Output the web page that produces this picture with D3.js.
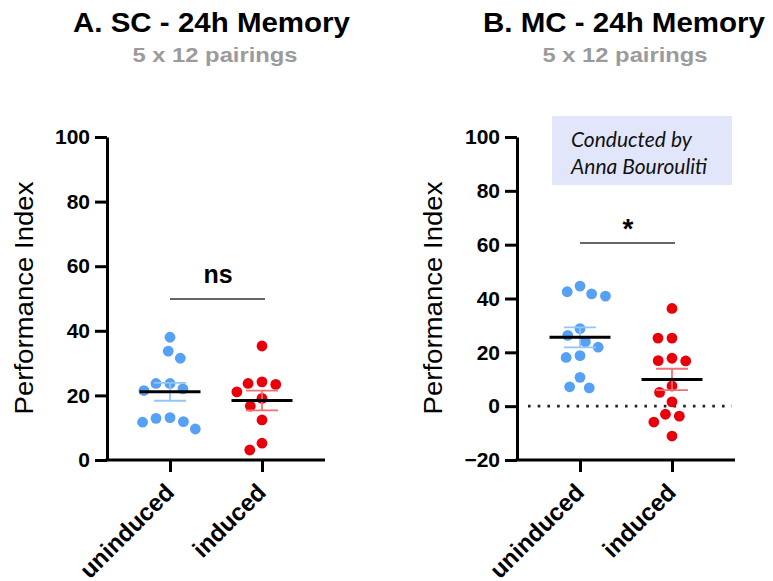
<!DOCTYPE html>
<html>
<head>
<meta charset="utf-8">
<script src="https://cdn.jsdelivr.net/npm/d3@7"></script>
<style>
  body { margin: 0; background: #fff; }
</style>
</head>
<body>
<div id="chart"></div>
<script>
// values (performance index per fly group)
var groups = ["uninduced", "induced"];
var scUninduced = [38.0, 33.7, 31.5, 23.7, 23.7, 21.5, 22.0, 13.1, 12.9, 11.9, 11.7, 9.6];
var scInduced = [35.3, 24.2, 23.7, 23.4, 21.1, 19.1, 16.7, 12.4, 5.2, 3.1];
var mcUninduced = [44.6, 42.5, 41.7, 40.9, 28.8, 26.3, 24.0, 21.9, 18.8, 18.1, 10.7, 7.2, 6.8];
var mcInduced = [36.3, 25.3, 25.3, 17.8, 16.9, 16.8, 7.5, 5.1, 1.6, -3.0, -3.7, -5.9, -11.1];
var ticksSC = [0, 20, 40, 60, 80, 100];
var ticksMC = [-20, 0, 20, 40, 60, 80, 100];

var font = "'Liberation Sans', Arial, sans-serif";
var dotColor = ["#56a0f5", "#e8000b"];
var errColor = ["#93c4fa", "#f27070"];

var svg = d3.select("#chart").append("svg")
  .attr("width", 773)
  .attr("height", 581);

// simple beeswarm: put each dot as close to the centre as it can go
function swarm(vals, y, d) {
  var placed = [];
  var xs = new Array(vals.length);
  var order = vals.map(function(v, i) { return i; })
    .sort(function(a, b) { return vals[b] - vals[a]; });
  order.forEach(function(i) {
    var py = y(vals[i]);
    var blocked = [];
    placed.forEach(function(p) {
      var dy = Math.abs(p.y - py);
      if (dy < d) {
        var w = Math.sqrt(d * d - dy * dy);
        blocked.push([p.x - w, p.x + w]);
      }
    });
    var cands = [0];
    blocked.forEach(function(b) { cands.push(b[0], b[1]); });
    cands.sort(function(a, b) { return Math.abs(a) - Math.abs(b); });
    var x = cands.find(function(c) {
      return blocked.every(function(b) { return c <= b[0] + 1e-6 || c >= b[1] - 1e-6; });
    });
    xs[i] = x;
    placed.push({x: x, y: py});
  });
  return xs;
}

function panel(o) {
  var width = 218;
  var g = svg.append("g").attr("transform", "translate(" + o.left + ",0)");

  var x = d3.scalePoint().domain(groups).range([0, width]).padding(0.685);
  var y = d3.scaleLinear().domain(o.domain).range([460, 137]);

  // titles
  svg.append("text")
    .attr("x", o.titleX).attr("y", 32)
    .attr("text-anchor", "middle")
    .attr("textLength", o.titleLen).attr("lengthAdjust", "spacingAndGlyphs")
    .style("font-family", font).style("font-weight", "bold").style("font-size", "27px")
    .text(o.title);
  svg.append("text")
    .attr("x", o.subX).attr("y", 62)
    .attr("text-anchor", "middle")
    .attr("textLength", 165).attr("lengthAdjust", "spacingAndGlyphs")
    .style("font-family", font).style("font-weight", "bold").style("font-size", "21px")
    .style("fill", "#9b9b9b")
    .text("5 x 12 pairings");

  // y label
  svg.append("text")
    .attr("transform", "translate(" + o.labelX + ",298) rotate(-90)")
    .attr("text-anchor", "middle")
    .attr("textLength", 233).attr("lengthAdjust", "spacingAndGlyphs")
    .style("font-family", font).style("font-size", "25px")
    .text("Performance Index");

  // y axis
  var ya = g.append("g")
    .call(d3.axisLeft(y).tickValues(o.ticks).tickSize(12).tickSizeOuter(0).tickPadding(5));
  ya.select(".domain").attr("stroke-width", 3);
  ya.selectAll(".tick line").attr("stroke-width", 3);
  ya.selectAll(".tick text")
    .style("font-family", font).style("font-weight", "bold").style("font-size", "21px")
    .attr("fill", "#000");

  // x axis
  var xa = g.append("g")
    .attr("transform", "translate(0,460)")
    .call(d3.axisBottom(x).tickSize(12).tickSizeOuter(0));
  xa.select(".domain").attr("stroke-width", 3).attr("d", "M-1.5,0H" + width);
  xa.selectAll(".tick line").attr("stroke-width", 3);
  xa.selectAll(".tick text")
    .attr("text-anchor", "end")
    .attr("y", 0).attr("dy", 0)
    .attr("transform", "translate(5,34) rotate(-45)")
    .style("font-family", font).style("font-weight", "bold").style("font-size", "24px")
    .attr("fill", "#000");

  // zero reference line
  if (o.zeroLine) {
    g.append("line")
      .attr("x1", 11).attr("x2", 215)
      .attr("y1", y(0)).attr("y2", y(0))
      .attr("stroke", "#222").attr("stroke-width", 2.6)
      .attr("stroke-dasharray", "2.6,7.1");
  }

  o.series.forEach(function(vals, k) {
    var cx = x(groups[k]);
    var xs = swarm(vals, y, 14);
    g.append("g").selectAll("circle")
      .data(vals)
      .join("circle")
      .attr("cx", function(d, i) { return cx + xs[i]; })
      .attr("cy", function(d) { return y(d); })
      .attr("r", 5.4)
      .attr("fill", dotColor[k]);

    var m = d3.mean(vals);
    var sem = d3.deviation(vals) / Math.sqrt(vals.length);
    var eb = g.append("g").attr("stroke", errColor[k]).attr("stroke-width", 1.8);
    eb.append("line").attr("x1", cx).attr("x2", cx).attr("y1", y(m - sem)).attr("y2", y(m + sem));
    [m - sem, m + sem].forEach(function(v) {
      eb.append("line").attr("x1", cx - 16).attr("x2", cx + 16).attr("y1", y(v)).attr("y2", y(v));
    });
    g.append("line")
      .attr("x1", cx - 30.5).attr("x2", cx + 30.5)
      .attr("y1", y(m)).attr("y2", y(m))
      .attr("stroke", "#000").attr("stroke-width", 3);
  });

  // significance bar
  g.append("line")
    .attr("x1", x(groups[0])).attr("x2", x(groups[1]) + 3)
    .attr("y1", o.sigY).attr("y2", o.sigY)
    .attr("stroke", "#333").attr("stroke-width", 1.4);
  g.append("text")
    .attr("x", (x(groups[0]) + x(groups[1])) / 2 + 2)
    .attr("y", o.sigTextY)
    .attr("text-anchor", "middle")
    .style("font-family", font).style("font-weight", "bold").style("font-size", o.sigSize)
    .text(o.sig);
}

panel({
  left: 107, domain: [0, 100], ticks: ticksSC,
  series: [scUninduced, scInduced],
  title: "A. SC - 24h Memory", titleX: 211.5, titleLen: 277, subX: 215,
  labelX: 33, sig: "ns", sigY: 299, sigTextY: 283, sigSize: "25px", zeroLine: false
});

panel({
  left: 517, domain: [-20, 100], ticks: ticksMC,
  series: [mcUninduced, mcInduced],
  title: "B. MC - 24h Memory", titleX: 624, titleLen: 282, subX: 625,
  labelX: 442, sig: "*", sigY: 243, sigTextY: 238, sigSize: "28px", zeroLine: true
});

// note box
svg.append("rect")
  .attr("x", 552).attr("y", 116)
  .attr("width", 180).attr("height", 69)
  .attr("fill", "#e2e6fa");
svg.append("text")
  .attr("x", 571).attr("y", 147)
  .style("font-family", "Lato, sans-serif").style("font-style", "italic").style("font-size", "21px")
  .attr("fill", "#111")
  .text("Conducted by");
svg.append("text")
  .attr("x", 571).attr("y", 174)
  .style("font-family", "Lato, sans-serif").style("font-style", "italic").style("font-size", "21px")
  .attr("fill", "#111")
  .text("Anna Bourouliti");
</script>
</body>
</html>
